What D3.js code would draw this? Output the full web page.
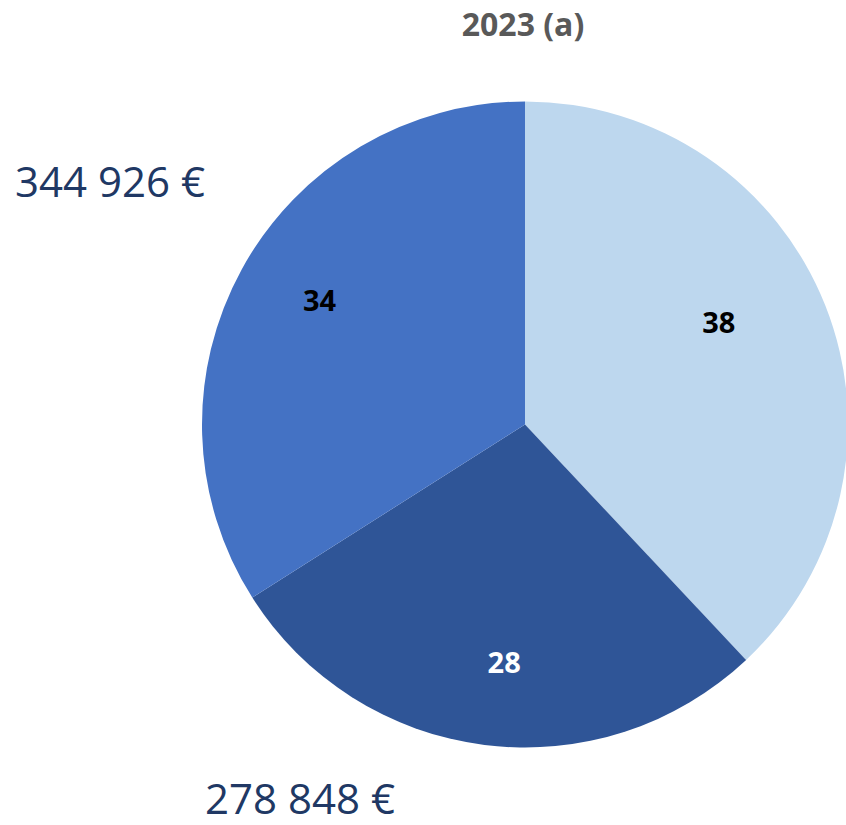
<!DOCTYPE html>
<html>
<head>
<meta charset="utf-8">
<script src="https://cdn.jsdelivr.net/npm/d3@7/dist/d3.min.js"></script>
<style>
  html, body { margin: 0; padding: 0; background: #ffffff; }
  svg { display: block; }
</style>
</head>
<body>
<svg id="chart" width="846" height="825"></svg>
<script>
// Data
const title = "2023 (a)";
const categories = ["A", "B", "C"];
const values = [38, 28, 34];
const sliceColors = ["#BDD7EE", "#2F5597", "#4472C4"];
const labelColors = ["#000000", "#ffffff", "#000000"];
const labelNudges = [[-20, -18], [8, 9], [-4, -14]];
const amountLabels = ["344 926 €", "278 848 €"];

const svg = d3.select("#chart");
const W = 846, H = 825;
const cx = 525, cy = 424.5, R = 323;

svg.append("text")
  .attr("x", 523).attr("y", 36)
  .attr("text-anchor", "middle")
  .attr("font-family", "'Open Sans', sans-serif")
  .attr("font-weight", "bold")
  .attr("font-size", 32)
  .attr("fill", "#595959")
  .text(title);

const data = categories.map((c, i) => ({ cat: c, value: values[i], i }));
const pie = d3.pie().value(d => d.value).sort(null);
const arcs = pie(data);
const arc = d3.arc().innerRadius(0).outerRadius(R);
const labelArc = d3.arc().innerRadius(230).outerRadius(230);

const g = svg.append("g").attr("transform", `translate(${cx},${cy})`);
g.selectAll("path.slice")
  .data(arcs)
  .join("path")
  .attr("class", "slice")
  .attr("d", arc)
  .attr("fill", d => sliceColors[d.data.i]);

g.selectAll("text.val")
  .data(arcs)
  .join("text")
  .attr("class", "val")
  .attr("x", d => labelArc.centroid(d)[0] + labelNudges[d.data.i][0])
  .attr("y", d => labelArc.centroid(d)[1] + labelNudges[d.data.i][1])
  .attr("text-anchor", "middle")
  .attr("dominant-baseline", "central")
  .attr("font-family", "'Open Sans', sans-serif")
  .attr("font-weight", "bold")
  .attr("font-size", 29)
  .attr("fill", d => labelColors[d.data.i])
  .text(d => d.data.value);

svg.append("text")
  .attr("x", 15).attr("y", 197)
  .attr("font-family", "'Open Sans', sans-serif")
  .attr("font-size", 42)
  .attr("fill", "#203864")
  .text(amountLabels[0]);

svg.append("text")
  .attr("x", 205).attr("y", 814)
  .attr("font-family", "'Open Sans', sans-serif")
  .attr("font-size", 42)
  .attr("fill", "#203864")
  .text(amountLabels[1]);
</script>
</body>
</html>
